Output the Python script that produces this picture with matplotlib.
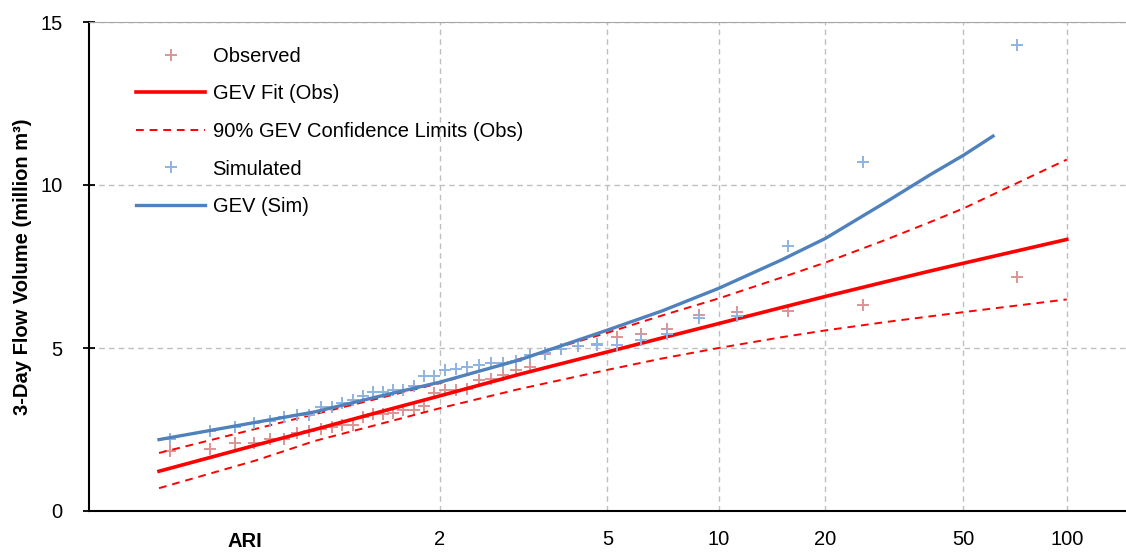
import matplotlib
matplotlib.use("Agg")
import matplotlib.pyplot as plt
import numpy as np

plt.rcParams['font.family'] = ['Liberation Sans', 'DejaVu Sans']

# Plotting positions (ARI) of the 40 ranked annual maxima
ari_pts = [1.014, 1.040, 1.068, 1.097, 1.128, 1.161, 1.195, 1.232, 1.271, 1.313,
           1.357, 1.405, 1.456, 1.511, 1.570, 1.634, 1.703, 1.778, 1.861, 1.951,
           2.051, 2.162, 2.285, 2.423, 2.578, 2.756, 2.959, 3.194, 3.471, 3.799,
           4.197, 4.687, 5.307, 6.116, 7.216, 8.798, 11.27, 15.67, 25.72, 71.64]

obs = [1.85, 1.91, 2.10, 2.10, 2.22, 2.22, 2.38, 2.44, 2.52, 2.57,
       2.64, 2.64, 2.87, 2.98, 2.98, 3.00, 3.10, 3.10, 3.22, 3.63,
       3.70, 3.70, 3.75, 4.02, 4.05, 4.17, 4.32, 4.42, 4.81, 4.96,
       5.06, 5.13, 5.33, 5.42, 5.57, 6.00, 6.10, 6.15, 6.33, 7.17]

sim = [2.20, 2.46, 2.57, 2.69, 2.75, 2.87, 2.93, 2.95, 3.18, 3.18,
       3.30, 3.40, 3.53, 3.65, 3.65, 3.70, 3.70, 3.82, 4.13, 4.14,
       4.31, 4.37, 4.43, 4.48, 4.55, 4.55, 4.61, 4.77, 4.84, 4.96,
       5.07, 5.08, 5.08, 5.24, 5.44, 5.92, 5.97, 8.12, 10.70, 14.28]

# GEV curves (read at fixed ARIs)
ari_fit = [1.0101, 1.1, 1.25, 1.5, 2, 3, 5, 7, 10, 15, 20, 30, 40, 50, 100]
gev_obs = [1.22, 2.02, 2.50, 2.97, 3.53, 4.19, 4.88, 5.31, 5.75, 6.24, 6.58, 7.04, 7.36, 7.60, 8.33]
gev_up = [1.78, 2.52, 2.97, 3.40, 3.92, 4.66, 5.47, 6.00, 6.52, 7.16, 7.62, 8.33, 8.86, 9.28, 10.78]
gev_lo = [0.70, 1.55, 2.15, 2.60, 3.15, 3.74, 4.33, 4.68, 5.00, 5.33, 5.54, 5.80, 5.97, 6.10, 6.49]

ari_sim = [1.0101, 1.1, 1.25, 1.5, 2, 3, 5, 7, 10, 15, 20, 30, 40, 50, 61]
gev_sim = [2.19, 2.72, 3.04, 3.46, 3.95, 4.63, 5.55, 6.14, 6.83, 7.70, 8.36, 9.49, 10.31, 10.91, 11.50]

xticks = [2, 5, 10, 20, 50, 100]


def gumbel(T):
    T = np.asarray(T, dtype=float)
    with np.errstate(all='ignore'):
        return -np.log(-np.log(1.0 - 1.0 / np.clip(T, 1.0000001, None)))


def gumbel_inv(y):
    y = np.asarray(y, dtype=float)
    return 1.0 / (1.0 - np.exp(-np.exp(-y)))


fs = 14.5
fig = plt.figure(figsize=(11.26, 5.6), dpi=100)
ax = fig.add_axes([89/1126, 1 - 511/560, 1 - 89/1126, 489/560])
ax.set_xscale('function', functions=(gumbel, gumbel_inv))

ax.plot(ari_pts, obs, '+', color='#D99594', ms=8, mew=1.4, label='Observed', zorder=3)
ax.plot(ari_fit, gev_obs, '-', color='#FF0000', lw=2.6, label='GEV Fit (Obs)', zorder=4)
ax.plot(ari_fit, gev_up, '--', color='#FF0000', lw=1.4, dashes=(4, 3),
        label='90% GEV Confidence Limits (Obs)', zorder=4)
ax.plot(ari_fit, gev_lo, '--', color='#FF0000', lw=1.4, dashes=(4, 3), zorder=4)
ax.plot(ari_pts, sim, '+', color='#8DB3E2', ms=8, mew=1.4, label='Simulated', zorder=5)
ax.plot(ari_sim, gev_sim, '-', color='#4F81BD', lw=2.4, label='GEV (Sim)', zorder=6)

ax.set_xlim(gumbel_inv(-2.0), gumbel_inv(5.0))
ax.set_ylim(0, 15)
ax.set_xticks(xticks)
ax.set_xticklabels([str(t) for t in xticks])
ax.xaxis.set_minor_locator(matplotlib.ticker.NullLocator())
ax.set_yticks([0, 5, 10, 15])

ax.tick_params(axis='x', length=0, pad=13.5, labelsize=fs)
ax.tick_params(axis='y', direction='inout', length=8, width=1.3, pad=15, labelsize=fs)

ax.grid(True, color='#BFBFBF', linestyle=(0, (4, 3)), lw=1)
ax.spines['right'].set_visible(False)
ax.spines['top'].set_color('#A6A6A6')
ax.spines['left'].set_linewidth(1.5)
ax.spines['bottom'].set_linewidth(1.5)

ax.set_ylabel('3-Day Flow Volume (million m³)', fontsize=fs, fontweight='bold', labelpad=6)
ax.text(0.15, -0.062, 'ARI', transform=ax.transAxes, ha='center', va='center',
        fontsize=fs, fontweight='bold')

ax.legend(loc='upper left', bbox_to_anchor=(0.0453, 0.949), frameon=False,
          fontsize=fs, handlelength=3.45, handletextpad=0.35, labelspacing=0.92,
          borderpad=0, borderaxespad=0)

plt.savefig('out.png', dpi=100)
